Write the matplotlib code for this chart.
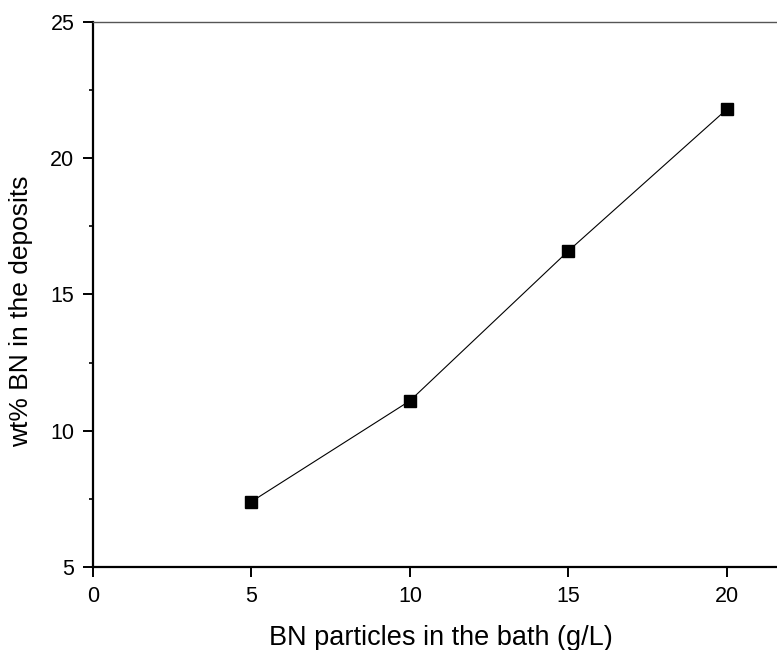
import matplotlib.pyplot as plt
from matplotlib.ticker import MultipleLocator

plt.rcParams["font.family"] = ["Liberation Sans", "DejaVu Sans"]

# BN loading in the bath vs. BN content of the coating
bn_bath = [5, 10, 15, 20]
bn_wt = [7.4, 11.1, 16.6, 21.8]

fig = plt.figure(figsize=(7.77, 6.5), dpi=100)
ax = fig.add_axes([0.1197, 0.1277, 0.8803, 0.8385])

ax.plot(bn_bath, bn_wt, color="black", linewidth=0.8, marker="s",
        markersize=8, markerfacecolor="black")

ax.set_xlim(0, 21.58)
ax.set_ylim(5, 25)
ax.xaxis.set_major_locator(MultipleLocator(5))
ax.yaxis.set_major_locator(MultipleLocator(5))
ax.yaxis.set_minor_locator(MultipleLocator(2.5))

ax.spines["right"].set_visible(False)
ax.spines["left"].set_linewidth(1.6)
ax.spines["bottom"].set_linewidth(1.6)
ax.spines["top"].set_linewidth(1.0)
ax.spines["top"].set_color("#555555")

ax.tick_params(which="major", direction="out", length=7, width=1.4,
               labelsize=15.5, pad=6.5)
ax.tick_params(which="minor", direction="out", length=3, width=1.2)
ax.tick_params(top=False, right=False)

ax.set_xlabel("BN particles in the bath (g/L)", fontsize=19.5)
ax.set_ylabel("wt% BN in the deposits", fontsize=19)
ax.xaxis.set_label_coords(0.509, -0.1065)
ax.yaxis.set_label_coords(-0.087, 0.47)

fig.savefig("out.png", dpi=100)
